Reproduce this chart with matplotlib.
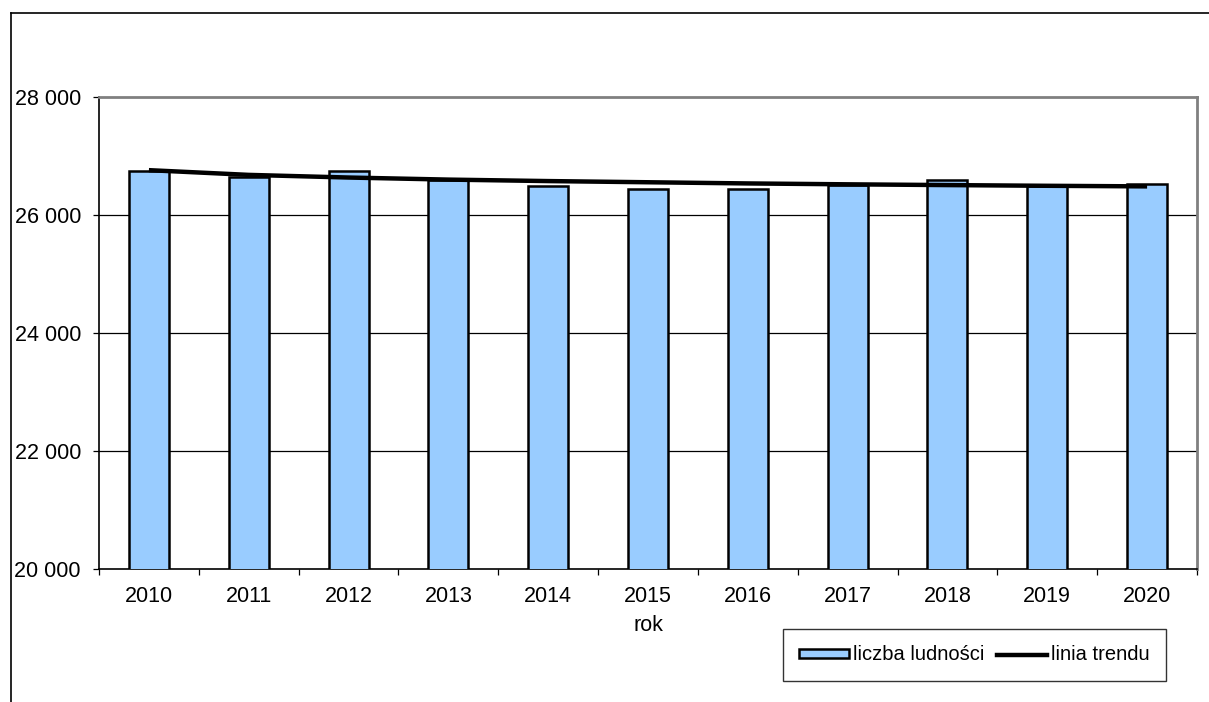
import numpy as np
import matplotlib.pyplot as plt
from matplotlib.patches import Patch
from matplotlib.lines import Line2D

plt.rcParams['font.family'] = ['Liberation Sans', 'DejaVu Sans']

# Data
years = ['2010', '2011', '2012', '2013', '2014', '2015',
         '2016', '2017', '2018', '2019', '2020']
population = [26740, 26650, 26740, 26590, 26486, 26440,
              26440, 26510, 26588, 26500, 26530]
trend = [26760, 26680, 26635, 26600, 26575, 26555,
         26535, 26520, 26507, 26495, 26485]
yticks = [20000, 22000, 24000, 26000, 28000]

W, H = 1209, 702
fig = plt.figure(figsize=(W / 100, H / 100), dpi=100)

# outer chart frame (cut off at right and bottom)
fig.add_artist(Line2D([11 / W, 11 / W], [0, 1 - 13 / H], color='black', lw=1.2))
fig.add_artist(Line2D([11 / W, 1], [1 - 13 / H, 1 - 13 / H], color='black', lw=1.2))

ax = fig.add_axes([99 / W, 1 - 569 / H, (1197 - 99) / W, (569 - 97) / H])

x = np.arange(len(years))
ax.bar(x, population, width=0.4, color='#99CCFF', edgecolor='black',
       linewidth=1.8, zorder=3)
ax.plot(x, trend, color='black', lw=3.2, zorder=4, solid_capstyle='butt')

ax.set_xlim(-0.5, len(years) - 0.5)
ax.set_ylim(20000, 28000)

for v in yticks[1:-1]:
    ax.axhline(v, color='black', lw=0.9, zorder=1)

ax.set_yticks(yticks)
ax.set_yticklabels([f"{v:,}".replace(',', ' ') for v in yticks])
ax.set_xticks(x)
ax.set_xticklabels(years)
ax.set_xticks(np.arange(-0.5, len(years)), minor=True)

ax.tick_params(axis='y', direction='out', length=4, width=0.9,
               labelsize=15.5, pad=9)
ax.tick_params(axis='x', which='major', length=0, labelsize=15.5, pad=12)
ax.tick_params(axis='x', which='minor', direction='out', length=4, width=0.9)

for s in ['top', 'right']:
    ax.spines[s].set_color('#808080')
    ax.spines[s].set_linewidth(2)
for s in ['left', 'bottom']:
    ax.spines[s].set_color('black')
    ax.spines[s].set_linewidth(1.2)

ax.set_xlabel('rok', fontsize=15.5, labelpad=6)

handles = [Patch(facecolor='#99CCFF', edgecolor='black', linewidth=1.8),
           Line2D([0], [0], color='black', lw=3.2)]
leg = fig.legend(handles, ['liczba ludności', 'linia trendu'],
                 loc='center', bbox_to_anchor=(974.5 / W, 1 - 655 / H),
                 ncol=2, frameon=True, fancybox=False, fontsize=14.5,
                 handlelength=2.5, handleheight=0.35, handletextpad=0.2,
                 columnspacing=0.6, borderpad=0.8, borderaxespad=0)
leg.get_frame().set_edgecolor('black')
leg.get_frame().set_linewidth(1.0)

fig.savefig('out.png', dpi=100)
